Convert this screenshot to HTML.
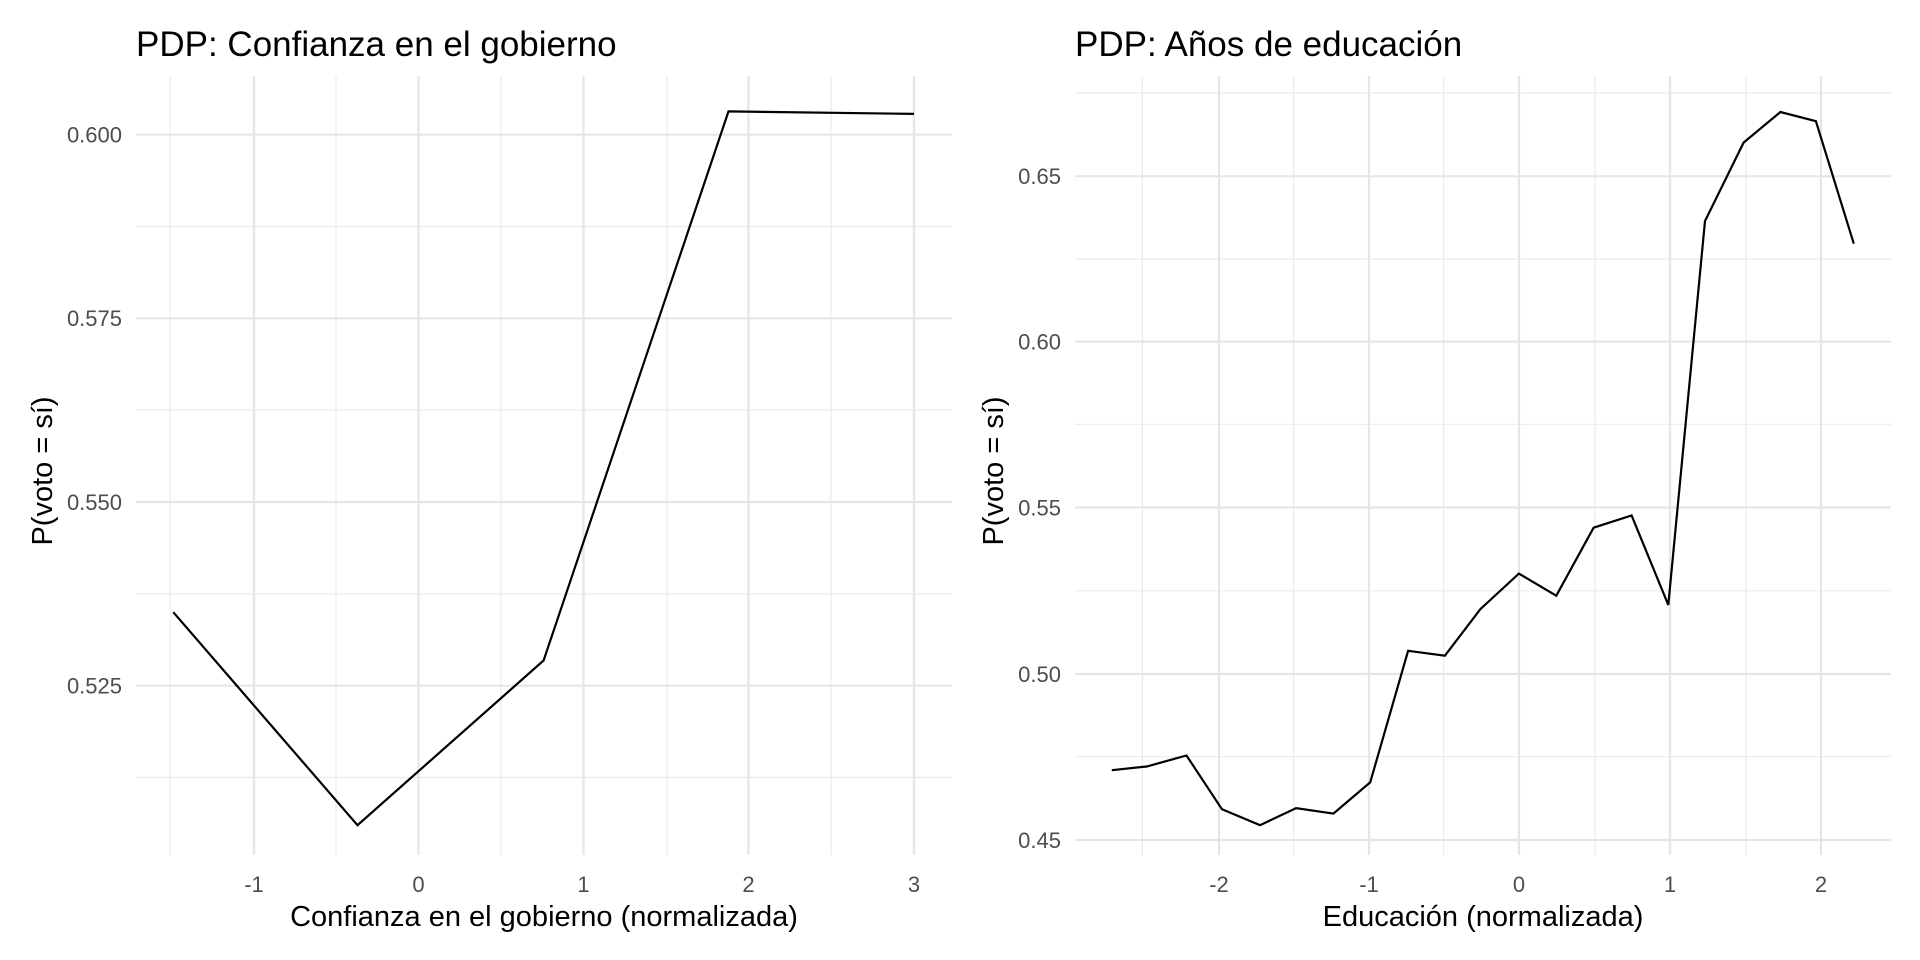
<!DOCTYPE html>
<html><head><meta charset="utf-8"><style>html,body{margin:0;padding:0;background:#fff}svg{display:block}</style></head>
<body>
<svg width="1920" height="960" viewBox="0 0 1920 960" xmlns="http://www.w3.org/2000/svg" font-family="Liberation Sans, Arial, sans-serif">
<rect width="1920" height="960" fill="#fff"/>
<!-- LEFT PANEL -->
<g stroke="#ebebeb" stroke-width="1.2">
<line x1="170.2" y1="76" x2="170.2" y2="855"/><line x1="336" y1="76" x2="336" y2="855"/><line x1="501" y1="76" x2="501" y2="855"/><line x1="667" y1="76" x2="667" y2="855"/><line x1="831" y1="76" x2="831" y2="855"/>
<line x1="136" y1="226.5" x2="952" y2="226.5"/><line x1="136" y1="410" x2="952" y2="410"/><line x1="136" y1="594" x2="952" y2="594"/><line x1="136" y1="777.5" x2="952" y2="777.5"/>
</g>
<g stroke="#e6e6e6" stroke-width="2.2">
<line x1="254" y1="76" x2="254" y2="855"/><line x1="418.5" y1="76" x2="418.5" y2="855"/><line x1="583.5" y1="76" x2="583.5" y2="855"/><line x1="748.5" y1="76" x2="748.5" y2="855"/><line x1="914" y1="76" x2="914" y2="855"/>
<line x1="136" y1="134.7" x2="952" y2="134.7"/><line x1="136" y1="318.3" x2="952" y2="318.3"/><line x1="136" y1="502" x2="952" y2="502"/><line x1="136" y1="685.7" x2="952" y2="685.7"/>
</g>
<polyline fill="none" stroke="#000" stroke-width="2.2" points="173.3,612.2 357.5,825.2 543.6,660.5 728.5,111.4 914,113.9"/>
<g fill="#4d4d4d" font-size="22" text-anchor="end">
<text x="122" y="142.5">0.600</text><text x="122" y="326">0.575</text><text x="122" y="510">0.550</text><text x="122" y="693.5">0.525</text>
</g>
<g fill="#4d4d4d" font-size="22" text-anchor="middle">
<text x="254" y="892">-1</text><text x="418.5" y="892">0</text><text x="583.5" y="892">1</text><text x="748.5" y="892">2</text><text x="914" y="892">3</text>
</g>
<text x="544" y="926" font-size="29" text-anchor="middle" fill="#000">Confianza en el gobierno (normalizada)</text>
<text transform="translate(52,471) rotate(-90)" font-size="29" text-anchor="middle" fill="#000">P(voto = sí)</text>
<text x="136" y="56" font-size="35" fill="#000">PDP: Confianza en el gobierno</text>
<!-- RIGHT PANEL -->
<g stroke="#ebebeb" stroke-width="1.2">
<line x1="1142.4" y1="76" x2="1142.4" y2="855"/><line x1="1293.6" y1="76" x2="1293.6" y2="855"/><line x1="1443.6" y1="76" x2="1443.6" y2="855"/><line x1="1594.9" y1="76" x2="1594.9" y2="855"/><line x1="1746.1" y1="76" x2="1746.1" y2="855"/>
<line x1="1075" y1="93" x2="1891" y2="93"/><line x1="1075" y1="259" x2="1891" y2="259"/><line x1="1075" y1="424.3" x2="1891" y2="424.3"/><line x1="1075" y1="590.8" x2="1891" y2="590.8"/><line x1="1075" y1="756.7" x2="1891" y2="756.7"/>
</g>
<g stroke="#e6e6e6" stroke-width="2.2">
<line x1="1219" y1="76" x2="1219" y2="855"/><line x1="1369" y1="76" x2="1369" y2="855"/><line x1="1519" y1="76" x2="1519" y2="855"/><line x1="1670" y1="76" x2="1670" y2="855"/><line x1="1821" y1="76" x2="1821" y2="855"/>
<line x1="1075" y1="176.3" x2="1891" y2="176.3"/><line x1="1075" y1="341.6" x2="1891" y2="341.6"/><line x1="1075" y1="507.5" x2="1891" y2="507.5"/><line x1="1075" y1="674" x2="1891" y2="674"/><line x1="1075" y1="840" x2="1891" y2="840"/>
</g>
<polyline fill="none" stroke="#000" stroke-width="2.2" points="1111.8,770.2 1146.7,766.5 1186.5,755.5 1222,809.3 1260,825.2 1296.1,808.1 1333.4,813.6 1370.2,782.4 1408.1,650.8 1444.9,655.7 1480.4,609.1 1518.9,573.6 1556.3,595.7 1593.6,527.7 1631.6,515.5 1668.3,604.9 1705,221 1743.6,142.6 1780.4,112 1815.9,121.2 1853.8,243.7"/>
<g fill="#4d4d4d" font-size="22" text-anchor="end">
<text x="1061" y="184">0.65</text><text x="1061" y="349.5">0.60</text><text x="1061" y="515.5">0.55</text><text x="1061" y="682">0.50</text><text x="1061" y="848">0.45</text>
</g>
<g fill="#4d4d4d" font-size="22" text-anchor="middle">
<text x="1219" y="892">-2</text><text x="1369" y="892">-1</text><text x="1519" y="892">0</text><text x="1670" y="892">1</text><text x="1821" y="892">2</text>
</g>
<text x="1483" y="926" font-size="29" text-anchor="middle" fill="#000">Educación (normalizada)</text>
<text transform="translate(1003,471) rotate(-90)" font-size="29" text-anchor="middle" fill="#000">P(voto = sí)</text>
<text x="1075" y="56" font-size="35" fill="#000">PDP: Años de educación</text>
</svg>
</body></html>
